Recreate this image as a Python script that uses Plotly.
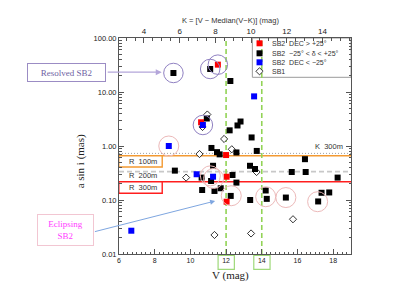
import plotly.graph_objects as go

# ---------------- data ----------------
V_RANGE = [6, 19]
K_OFFSET = 3.4          # K = V - median(V-K)

# SB2, DEC > +25
red_v = [11.54, 10.60, 12.00, 12.03, 12.03]
red_a = [32.1, 2.75, 0.68, 0.27, 0.093]
# SB2, -25 < dec < +25
blk_v = [9.05, 11.11, 12.24, 10.92, 12.81, 12.64, 12.20, 13.43, 11.18, 11.49, 11.64, 12.58,
         13.72, 9.13, 10.63, 11.27, 11.16, 12.36, 12.58, 13.34, 13.62, 10.66, 11.35, 11.70,
         12.26, 13.35, 14.22, 14.28, 15.35, 17.16, 17.35, 17.78, 16.42, 15.68, 16.46, 18.25]
blk_a = [22.5, 26.7, 16.0, 3.23, 2.84, 2.40, 1.95, 1.44, 0.92, 0.77, 0.70, 0.76,
         0.81, 0.35, 0.26, 0.43, 0.225, 0.29, 0.21, 0.43, 0.375, 0.153, 0.147, 0.165,
         0.119, 0.10, 0.15, 0.105, 0.111, 0.094, 0.136, 0.138, 0.57, 0.33, 0.33, 0.26]
# SB2, DEC < -25
blue_v = [13.57, 10.70, 8.79, 10.35, 11.27, 6.69]
blue_a = [8.3, 2.45, 1.0, 0.30, 0.27, 0.027]
# SB1
sb1_v = [10.95, 10.68, 11.89, 12.32, 10.51, 9.76, 13.71, 15.75, 11.35, 13.40]
sb1_a = [3.83, 2.25, 1.35, 0.87, 0.71, 0.26, 0.33, 0.044, 0.0225, 0.024]

# highlighted objects
resolved_v = [9.05, 11.11, 11.54, 10.70]
resolved_a = [22.5, 26.7, 32.1, 2.45]
eclipsing_v = [8.79, 11.12, 11.30, 12.29, 14.22, 15.35, 17.13]
eclipsing_a = [1.0, 0.28, 0.25, 0.12, 0.115, 0.111, 0.093]

# limits
K300 = 0.73
R100 = 0.66
R200 = 0.334
R300 = 0.218
V_LIMITS = [12, 14]

legend_labels = ["SB2  DEC > +25°", "SB2  −25° < δ < +25°", "SB2  DEC < −25°", "SB1"]

# ---------------- layout geometry (page pixels) ----------------
PAGE_OFF = 8                      # default body margin of the html page
W, H = 400 - PAGE_OFF, 300 - PAGE_OFF
L, T = 118.7, 38                  # plot-area corner in page pixels
PW = (V_RANGE[1] - V_RANGE[0]) * 17.88
PH = 216
ML, MT = L - PAGE_OFF, T - PAGE_OFF
MR = W - ML - PW
MB = H - MT - PH


def px(x):
    return (x - L) / PW


def py(y):
    return (T + PH - y) / PH


FONT = "Liberation Sans"
SERIF = "Liberation Serif"
GREEN = "#92d356"
ORANGE = "#f39a32"
RED = "#ff1e1e"

fig = go.Figure()

sq = dict(symbol="square", size=6, line=dict(width=0))
fig.add_trace(go.Scatter(x=sb1_v, y=sb1_a, mode="markers",
                         marker=dict(symbol="diamond", size=5.5, color="white",
                                     line=dict(color="black", width=0.8))))
fig.add_trace(go.Scatter(x=blk_v, y=blk_a, mode="markers", marker=dict(color="black", **sq)))
fig.add_trace(go.Scatter(x=red_v, y=red_a, mode="markers", marker=dict(color="#ff0000", **sq)))
fig.add_trace(go.Scatter(x=blue_v, y=blue_a, mode="markers", marker=dict(color="#0000ff", **sq)))
fig.add_trace(go.Scatter(x=resolved_v, y=resolved_a, mode="markers",
                         marker=dict(symbol="circle-open", size=19.5, color="#9081c2",
                                     line=dict(width=1))))
fig.add_trace(go.Scatter(x=eclipsing_v, y=eclipsing_a, mode="markers",
                         marker=dict(symbol="circle-open", size=20, color="#ecb9b9",
                                     line=dict(width=1))))
# top axis carrier
fig.add_trace(go.Scatter(x=[], y=[], xaxis="x2", yaxis="y"))

# legend markers on an invisible overlay axis
leg_y_px = [43.3, 53.3, 62.3, 71.3]
leg_x = px(259.5)
leg_styles = [dict(color="#ff0000", **sq), dict(color="black", **sq), dict(color="#0000ff", **sq),
              dict(symbol="diamond", size=5.5, color="white", line=dict(color="black", width=0.8))]
for yy, st in zip(leg_y_px, leg_styles):
    fig.add_trace(go.Scatter(x=[leg_x], y=[py(yy)], mode="markers", marker=st,
                             xaxis="x3", yaxis="y3"))

shapes = []
# legend box
shapes.append(dict(type="rect", xref="paper", yref="paper", x0=px(252.3), x1=1,
                   y0=py(77.3), y1=1, line=dict(color="#9a9a9a", width=1),
                   fillcolor="white", layer="below"))
# horizontal limits
shapes.append(dict(type="line", xref="paper", yref="y", x0=0, x1=1, y0=K300, y1=K300,
                   line=dict(color="#a0a0a0", width=1, dash="1px,2px"), layer="below"))
shapes.append(dict(type="line", xref="paper", yref="y", x0=0, x1=1, y0=R200, y1=R200,
                   line=dict(color="#c8c8c8", width=1.8, dash="5px,3px"), layer="below"))
shapes.append(dict(type="line", xref="paper", yref="y", x0=0, x1=1, y0=R100, y1=R100,
                   line=dict(color=ORANGE, width=1.4), layer="below"))
shapes.append(dict(type="line", xref="paper", yref="y", x0=0, x1=1, y0=R300, y1=R300,
                   line=dict(color=RED, width=1.4), layer="below"))
# vertical magnitude limits
for v in V_LIMITS:
    shapes.append(dict(type="line", xref="x", yref="paper", x0=v, x1=v, y0=0, y1=1,
                       line=dict(color=GREEN, width=1.6, dash="5px,3px"), layer="below"))
# labelled boxes
shapes.append(dict(type="rect", xref="paper", yref="paper", x0=px(118.5), x1=px(162),
                   y0=py(167), y1=py(155.7), line=dict(color=ORANGE, width=1.4),
                   fillcolor="white", layer="below"))
shapes.append(dict(type="rect", xref="paper", yref="paper", x0=px(118.5), x1=px(162),
                   y0=py(193.3), y1=py(181.7), line=dict(color=RED, width=1.4),
                   fillcolor="white", layer="below"))
# green boxes around tick labels 12 and 14
for v in V_LIMITS:
    xc = px(L + (v - V_RANGE[0]) * 17.88)
    shapes.append(dict(type="rect", xref="paper", yref="paper",
                       x0=xc - 8 / PW, x1=xc + 8.3 / PW, y0=py(269.3), y1=py(255.5),
                       line=dict(color="#9fd97a", width=1.2)))

ann = []
def txt(text, x, y, size=7.5, color="#333", xanchor="left", family=FONT, **kw):
    ann.append(dict(text=text, xref="paper", yref="paper", x=x, y=y, showarrow=False,
                    xanchor=xanchor, yanchor="middle",
                    font=dict(size=size, color=color, family=family), **kw))

txt("K  300m", px(345), py(146.7), xanchor="right")
txt("R  100m", px(126.5), py(161.5))
txt("R  200m", px(126.5), py(175.5))
txt("R  300m", px(126.5), py(187.8))
for yy, lab in zip(leg_y_px, legend_labels):
    txt(lab, px(270), py(yy), size=7)

# axis titles
txt("V (mag)", px(230), py(275), size=11, color="#222", xanchor="center", family=SERIF)
txt("a sin i (mas)", px(80), py(161), size=11, color="#222", xanchor="center",
    family=SERIF, textangle=-90)
txt("K = [V − Median(V−K)] (mag)", px(230), py(20.7), size=7.5, xanchor="center")

# callout boxes
txt("Resolved SB2", px(66.3), py(72.2), size=9, color="#6e5fa3", xanchor="center",
    family=SERIF, width=77, height=17, bordercolor="#9b8cc4", borderwidth=1, borderpad=0)
txt("Eclipsing<br>SB2", px(64.7), py(229.7), size=9, color="#ff3cff", xanchor="center",
    family=SERIF, width=55, height=30, bordercolor="#f2c6d2", borderwidth=1, borderpad=0)
# arrows
ann.append(dict(text="", xref="paper", yref="paper", x=px(161.5), y=py(72.2),
                ax=-55.5, ay=0, showarrow=True, arrowhead=2, arrowsize=1,
                arrowwidth=1.2, arrowcolor="#b4a6da"))
ann.append(dict(text="", xref="paper", yref="paper", x=px(215), y=py(201),
                ax=93.3 - 215, ay=232 - 201, showarrow=True, arrowhead=2, arrowsize=1,
                arrowwidth=1, arrowcolor="#7ea6e0"))

axis_common = dict(showline=True, linecolor="#555", linewidth=1, ticks="inside",
                   tickcolor="#555", showgrid=False, zeroline=False)

fig.update_layout(
    width=W, height=H, showlegend=False,
    margin=dict(l=ML, r=MR, t=MT, b=MB, pad=0),
    paper_bgcolor="white", plot_bgcolor="white",
    font=dict(family=FONT, size=7, color="#222"),
    xaxis=dict(range=V_RANGE, tick0=6, dtick=2, ticklen=5,
               minor=dict(ticks="inside", ticklen=2.5, dtick=0.25, tickcolor="#555"),
               tickfont=dict(size=7, color="#222"), **axis_common),
    xaxis2=dict(range=[V_RANGE[0] - K_OFFSET, V_RANGE[1] - K_OFFSET], overlaying="x",
                side="top", anchor="y", tick0=0, dtick=2, ticklen=5,
                minor=dict(ticks="inside", ticklen=2.5, dtick=0.5, tickcolor="#555"),
                tickfont=dict(size=8, color="#222"), **axis_common),
    yaxis=dict(type="log", range=[-2, 2], dtick=1, tickformat=".2f", ticklen=5,
               mirror="ticks",
               minor=dict(ticks="inside", ticklen=2.5, dtick="D1", tickcolor="#555"),
               tickfont=dict(size=7.5, color="#222"), **axis_common),
    xaxis3=dict(range=[0, 1], overlaying="x", visible=False, anchor="y3"),
    yaxis3=dict(range=[0, 1], overlaying="y", visible=False, anchor="x3"),
    shapes=shapes, annotations=ann,
)

fig.write_html("out.html")
